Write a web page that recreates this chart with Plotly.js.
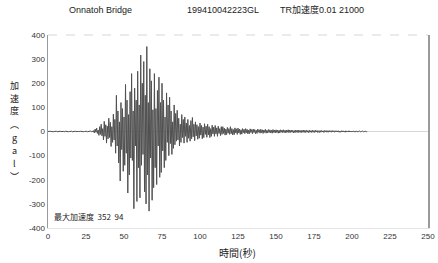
<!DOCTYPE html>
<html><head><meta charset="utf-8">
<script src="https://cdn.plot.ly/plotly-3.0.1.min.js"></script>
<style>html,body{margin:0;padding:0;background:#fff}#chart{width:438px;height:263px}</style>
</head><body><div id="chart"></div>
<script>
// Acceleration record (gal), sampled every 0.5 s from t = 0 s
const startTime = 0;
const sampleStep = 0.5;
const acceleration = [
  // 0–30 s quiet
  0,1,-1,1,0,-1,1,-1,0,1,-1,1,-1,0,1,-1,1,0,-1,1,
  0,1,-1,1,0,-1,1,-1,0,1,-1,1,-1,0,1,-1,1,0,-1,1,
  0,1,-1,1,0,-1,1,-1,0,1,-1,1,-1,0,1,-1,2,-1,2,-2,
  // 30–50 s
  4,-6,10,-3,14,-8,6,-16,20,-12,
  30,-18,12,-35,42,-20,28,-48,22,-30,
  55,-25,38,-62,20,-45,72,-35,50,-90,
  150,-60,85,-130,40,-205,120,-75,95,-165,
  // 50–70 s strong motion
  60,-140,195,-90,130,-255,70,-180,165,-110,
  240,-120,85,-320,180,-60,130,-290,250,-150,
  110,-275,317,-140,200,-95,290,-250,150,-300,
  352,-180,120,-330,260,-110,210,-285,90,-233,
  // 70–100 s
  240,-150,95,-220,170,-60,225,-190,120,-170,
  200,-80,130,-150,60,-120,160,-45,110,-100,
  142,-50,85,-95,40,-70,110,-55,75,-40,
  88,-35,55,-60,30,-45,70,-25,50,-48,
  60,-20,35,-45,50,-28,25,-40,45,-30,
  58,-22,30,-38,40,-18,28,-32,20,-28,
  // 100–140 s
  35,-15,25,-30,18,-25,32,-12,22,-24,
  30,-14,20,-25,12,-20,26,-10,18,-20,
  25,-10,15,-20,22,-8,12,-17,20,-12,
  20,-8,14,-15,10,-13,17,-7,12,-12,
  20,-9,12,-14,8,-13,15,-6,11,-12,
  14,-6,10,-12,7,-11,12,-5,9,-9,
  12,-5,9,-10,6,-9,11,-4,8,-9,
  10,-4,8,-9,5,-8,10,-3,7,-7,
  // 140–210 s coda
  9,-5,7,-8,6,-4,9,-7,5,-6,8,-4,7,-6,5,-7,8,-4,6,-6,
  7,-4,6,-7,5,-6,7,-3,6,-5,7,-4,5,-6,6,-3,7,-5,6,-4,
  6,-3,5,-6,4,-5,6,-3,5,-5,6,-3,4,-5,5,-3,6,-4,5,-4,
  5,-3,4,-5,5,-3,4,-4,5,-3,4,-4,5,-2,4,-4,3,-4,4,-3,
  4,-2,3,-4,4,-2,4,-3,3,-3,4,-2,3,-3,4,-2,3,-3,3,-2,
  3,-2,3,-3,2,-3,3,-2,3,-2,2,-3,3,-2,2,-2,3,-2,2,-2,
  2,-2,2,-1,2,-2,1,-2,2,-1,2,-1,1,-1,2,-1,1,-1,1,-1,
  0
];
const xTicks = [0,25,50,75,100,125,150,175,200,225,250];
const yTicks = [-400,-300,-200,-100,0,100,200,300,400];
const titleName = "Onnatoh Bridge";
const titleCode = "199410042223GL";
const titleComp = "TR加速度0.01 21000";
const yTitleChars = ["加","速","度","︵","g","a","l","︶"];
const xTitle = "時間(秒)";
const peakNote = "最大加速度  352  94";

const f = "Liberation Sans, Noto Sans CJK JP, sans-serif";
const jp = "Noto Sans CJK JP, sans-serif";
const data = [{
  type: 'scatter', mode: 'lines',
  x0: startTime, dx: sampleStep, y: acceleration,
  line: {color: '#505050', width: 1}, hoverinfo: 'skip'
}];
// helper: pixel coordinates -> paper coordinates
const px = x => (x - 48) / 380;
const py = y => (228 - y) / 193;
const yTitleAnn = yTitleChars.map((c, i) => ({
  text: c, xref: 'paper', yref: 'paper', x: px(14), y: py(85 + i * 13),
  xanchor: 'center', yanchor: 'middle', showarrow: false,
  font: {family: jp, size: 9, color: '#222'}
}));
const layout = {
  width: 438, height: 263,
  margin: {l: 48, r: 10, t: 35, b: 35},
  paper_bgcolor: '#fff', plot_bgcolor: '#fff',
  showlegend: false,
  xaxis: {
    range: [0, 250], tickvals: xTicks, ticktext: xTicks.map(String),
    showgrid: false, zeroline: false, showline: true, linecolor: '#e4e4e4', mirror: false,
    ticks: '', ticklen: 0,
    tickfont: {family: f, size: 8, color: '#333'}
  },
  yaxis: {
    range: [-400, 400], tickvals: yTicks, ticktext: yTicks.map(String),
    showgrid: false, zeroline: true, zerolinecolor: '#d8d8d8', zerolinewidth: 1,
    showline: true, linecolor: '#9a9a9a', linewidth: 1.5, mirror: true,
    ticks: '', tickfont: {family: f, size: 8, color: '#333'}
  },
  shapes: [
    {type: 'line', xref: 'paper', yref: 'paper', x0: 0, x1: 1, y0: 1, y1: 1,
     line: {color: '#d6d6d6', width: 1, dash: 'dash'}}
  ],
  annotations: [
    {text: titleName, xref: 'paper', yref: 'paper', x: px(67), y: py(10),
     xanchor: 'left', yanchor: 'middle', showarrow: false, font: {family: f, size: 9, color: '#222'}},
    {text: titleCode, xref: 'paper', yref: 'paper', x: px(185), y: py(10),
     xanchor: 'left', yanchor: 'middle', showarrow: false, font: {family: f, size: 9, color: '#222'}},
    {text: titleComp, xref: 'paper', yref: 'paper', x: px(278), y: py(10),
     xanchor: 'left', yanchor: 'middle', showarrow: false, font: {family: f, size: 9, color: '#222'}},
    {text: xTitle, xref: 'paper', yref: 'paper', x: px(237), y: py(252),
     xanchor: 'center', yanchor: 'middle', showarrow: false,
     font: {family: jp, size: 10, color: '#222'}},
    {text: peakNote, xref: 'paper', yref: 'paper', x: px(52), y: py(216),
     xanchor: 'left', yanchor: 'middle', showarrow: false,
     font: {family: jp, size: 8, color: '#222'}}
  ].concat(yTitleAnn)
};
Plotly.newPlot('chart', data, layout, {staticPlot: true, displayModeBar: false});
</script>
</body></html>
